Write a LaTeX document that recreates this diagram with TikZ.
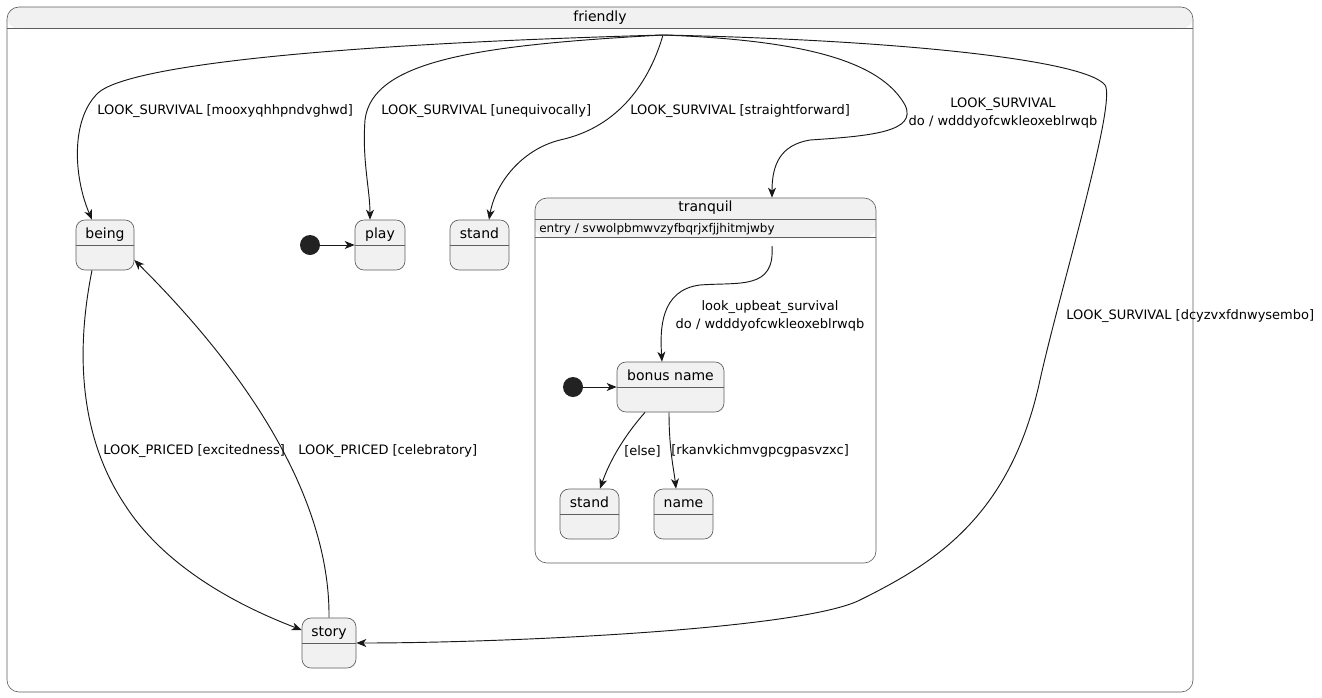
\documentclass[tikz,border=0pt]{standalone}
\usepackage{fontspec}
\setmainfont{DejaVu Sans}
\usepackage{tikz}
\usetikzlibrary{arrows.meta, calc}
\definecolor{stategray}{HTML}{F1F1F1}
\definecolor{stateline}{HTML}{181818}
\definecolor{boxline}{HTML}{5E5E5E}
\definecolor{dotink}{HTML}{222222}
\newlength{\pxu}
\setlength{\pxu}{0.75pt}

\begin{document}
\begin{tikzpicture}[
        x=0.75pt, y=-0.75pt,
        state/.style={draw=boxline, line width=0.5pt, fill=stategray, rounded corners=9\pxu, minimum height=50\pxu, inner xsep=6\pxu, inner ysep=0pt, text height=13.5pt, text depth=24pt, font=\fontsize{10.5}{12.6}\selectfont},
        compbox/.style={draw=boxline, line width=0.5pt, fill=white, rounded corners=12\pxu, path picture={\fill[stategray] (path picture bounding box.north west) rectangle ([yshift=-#1]path picture bounding box.north east);}},
        sepline/.style={boxline, line width=0.5pt},
        title/.style={font=\fontsize{10.5}{12.6}\selectfont, inner sep=0pt},
        startdot/.style={circle, fill=dotink, minimum size=20\pxu, inner sep=0pt},
        lbl/.style={font=\fontsize{9.75}{13.5}\selectfont, inner sep=0pt, anchor=west},
        lbltwo/.style={font=\fontsize{9.75}{13.5}\selectfont, inner sep=0pt, align=center},
        arrow/.style={-{Stealth[length=7.5pt, width=6pt, inset=2.2pt]}, draw=stateline, line width=0.7pt}
    ]
        \useasboundingbox (0,0) rectangle (1322,697);

        % composite states
        \node (friendly) [compbox=22\pxu, minimum width=1186\pxu, minimum height=685\pxu] at (600,349.5) {};
        \node (friendlyname) [title] at (600,18) {friendly};
        \draw [sepline] ([yshift=-22\pxu]friendly.north west) -- ([yshift=-22\pxu]friendly.north east);

        \node (tranquil) [compbox=40\pxu, minimum width=341\pxu, minimum height=365\pxu] at (705.5,380.5) {};
        \node (tranquilname) [title] at (705.5,208) {tranquil};
        \node (tranquilentry) [inner sep=0pt, anchor=west, font=\fontsize{9}{10.8}\selectfont] at (539,229) {entry / svwolpbmwvzyfbqrjxfjjhitmjwby};
        \draw [sepline] ([yshift=-22\pxu]tranquil.north west) -- ([yshift=-22\pxu]tranquil.north east);
        \draw [sepline] ([yshift=-40\pxu]tranquil.north west) -- ([yshift=-40\pxu]tranquil.north east);

        % simple states
        \node (being) [state, minimum width=58\pxu] at (105,245) {being};
        \node (play) [state, minimum width=50\pxu] at (380,245) {play};
        \node (stand) [state, minimum width=59\pxu] at (479.5,245) {stand};
        \node (story) [state, minimum width=54\pxu] at (329,643) {story};
        \node (bonus) [state, minimum width=107\pxu] at (670.5,387) {bonus name};
        \node (stand2) [state, minimum width=59\pxu] at (589.5,514) {stand};
        \node (name) [state, minimum width=59\pxu] at (683.5,514) {name};
        \foreach \s in {being, play, stand, story, bonus, stand2, name}
            \draw [sepline] ([yshift=-26\pxu]\s.north west) -- ([yshift=-26\pxu]\s.north east);

        \node (init) [startdot] at (310,245) {};
        \node (init2) [startdot] at (573,387) {};

        \coordinate (top) at (663,35);
        \coordinate (tranqout) at (772,246);

        % transitions
        \draw [arrow] (top) .. controls (300,45) and (125,68) .. (98,93) .. controls (70,120) and (74,178) .. ([xshift=-13\pxu]being.north);
        \draw [arrow] (top) .. controls (480,45) and (372,60) .. (365,120) .. controls (362,160) and (370,190) .. ([xshift=-10\pxu]play.north);
        \draw [arrow] (top) .. controls (650,80) and (620,127) .. (560,140) .. controls (520,150) and (495,185) .. ([xshift=9.5\pxu]stand.north);
        \draw [arrow] (top) .. controls (800,40) and (880,60) .. (905,105) .. controls (918,132) and (870,136) .. (810,140) .. controls (780,145) and (772,165) .. ([xshift=66.5\pxu]tranquil.north);
        \draw [arrow] (top) .. controls (900,40) and (1085,60) .. (1105,85) .. controls (1117,102) and (1060,290) .. (1040,380) .. controls (1010,520) and (930,565) .. (860,600) .. controls (800,630) and (500,643) .. (story.east);
        \draw [arrow] ([xshift=-13\pxu]being.south) .. controls (78,340) and (75,430) .. (125,505) .. controls (170,575) and (255,612) .. ([yshift=13\pxu]story.west);
        \draw [arrow] (story.north) .. controls (330,530) and (285,410) .. ([yshift=-15\pxu]being.east);
        \draw [arrow] (tranqout) .. controls (775,290) and (740,282) .. (700,285) .. controls (660,290) and (660,330) .. ([xshift=-8.5\pxu]bonus.north);
        \draw [arrow] (init) -- (play.west);
        \draw [arrow] (init2) -- (bonus.west);
        \draw [arrow] ([xshift=-25.5\pxu]bonus.south) .. controls (625,435) and (610,460) .. ([xshift=10.5\pxu]stand2.north);
        \draw [arrow] ([xshift=-1.5\pxu]bonus.south) .. controls (669,450) and (674,470) .. ([xshift=-7.5\pxu]name.north);

        % transition labels
        \node (l1) [lbl] at (97,111) {LOOK\_SURVIVAL [mooxyqhhpndvghwd]};
        \node (l2) [lbl] at (381,111) {LOOK\_SURVIVAL [unequivocally]};
        \node (l3) [lbl] at (630,111) {LOOK\_SURVIVAL [straightforward]};
        \node (l4) [lbltwo] at (1003,113) {LOOK\_SURVIVAL\\do / wdddyofcwkleoxeblrwqb};
        \node (l5) [lbl] at (1066,316) {LOOK\_SURVIVAL [dcyzvxfdnwysembo]};
        \node (l6) [lbl] at (103,451) {LOOK\_PRICED [excitedness]};
        \node (l7) [lbl] at (298,451) {LOOK\_PRICED [celebratory]};
        \node (l8) [lbltwo] at (770,316) {look\_upbeat\_survival\\do / wdddyofcwkleoxeblrwqb};
        \node (l9) [lbl] at (624,451) {[else]};
        \node (l10) [lbl] at (671,451) {[rkanvkichmvgpcgpasvzxc]};
    \end{tikzpicture}
\end{document}
